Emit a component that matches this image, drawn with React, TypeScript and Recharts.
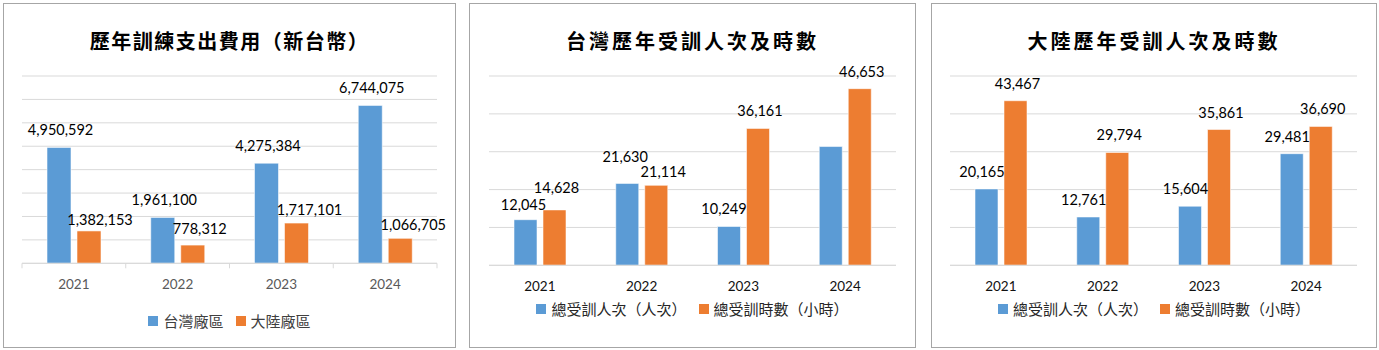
import { Bar, BarChart, CartesianGrid, LabelList, Legend, XAxis, YAxis } from 'recharts';

const years = ['2021', '2022', '2023', '2024'];

// 歷年訓練支出費用（新台幣）
const costTaiwan = [4950592, 1961100, 4275384, 6744075];
const costMainland = [1382153, 778312, 1717101, 1066705];
const costTicks = [0, 1000000, 2000000, 3000000, 4000000, 5000000, 6000000, 7000000, 8000000];

// 台灣歷年受訓人次及時數
const twTrainees = [12045, 21630, 10249, 31370];
const twHours = [14628, 21114, 36161, 46653];
const twTraineesShown = [true, true, true, false];

// 大陸歷年受訓人次及時數
const cnTrainees = [20165, 12761, 15604, 29481];
const cnHours = [43467, 29794, 35861, 36690];

const countTicks = [0, 10000, 20000, 30000, 40000, 50000];

const BLUE = '#5B9BD5';
const ORANGE = '#ED7D31';
const NUM_FONT = 'Lato, "Liberation Sans", sans-serif';
const CJK_FONT = '"Noto Sans CJK TC", "Noto Sans", sans-serif';

const fmt = (v: number) => v.toLocaleString('en-US');

const toRows = (a: number[], b: number[]) => years.map((year, i) => ({ year, a: a[i], b: b[i] }));

type Nudge = [number, number][];

const makeLabel = (dx: number, lift: number, nudge?: Nudge, shown?: boolean[]) => (p: any) => {
  const i = p.index ?? 0;
  if (shown && !shown[i]) return null;
  const vb = p.viewBox ?? {};
  const x = (p.x ?? vb.x) + (p.width ?? vb.width) / 2;
  const y = p.y ?? vb.y;
  const [nx, ny] = nudge?.[i] ?? [0, 0];
  return (
    <text x={x + dx + nx} y={y - lift + ny} textAnchor="middle" fontSize={14.5} fontFamily={NUM_FONT} fill="#000">
      {fmt(Number(p.value))}
    </text>
  );
};

const legendContent = (color: string) => (props: any) => (
  <div style={{ display: 'flex', justifyContent: 'center', alignItems: 'center', fontFamily: CJK_FONT, fontSize: 15, color }}>
    {(props.payload ?? []).map((e: any, i: number) => (
      <span key={i} style={{ display: 'inline-flex', alignItems: 'center', marginLeft: i ? 12 : 0 }}>
        <span style={{ width: 10, height: 10, background: e.color, marginRight: 5, display: 'inline-block' }} />
        {e.value}
      </span>
    ))}
  </div>
);

type PanelProps = {
  left: number;
  width: number;
  title: string;
  spacing: number;
  a: number[];
  b: number[];
  names: [string, string];
  ticks: number[];
  plotLeft: number;
  plotRight: number;
  baseline: number;
  legendTop: number;
  tickColor: string;
  boundaryTicks?: boolean;
  labelA: (p: any) => any;
  labelB: (p: any) => any;
};

const H = 343;

const Panel = (p: PanelProps) => {
  const inner = p.width - 2;
  const axisH = 40;
  const plotW = inner - p.plotLeft - p.plotRight;
  const band = plotW / years.length;
  const tick = (t: any) => {
    const { x, y, payload, index } = t;
    return (
      <g>
        {p.boundaryTicks && <line x1={x - band / 2} x2={x - band / 2} y1={y} y2={y + 5} stroke="#d9d9d9" />}
        {p.boundaryTicks && index === years.length - 1 && (
          <line x1={x + band / 2} x2={x + band / 2} y1={y} y2={y + 5} stroke="#d9d9d9" />
        )}
        <text x={x} y={y + 21} textAnchor="middle" dominantBaseline="central" fontSize={13.5} fontFamily={NUM_FONT} fill={p.tickColor}>
          {payload.value}
        </text>
      </g>
    );
  };
  return (
    <div
      style={{
        position: 'absolute',
        left: p.left,
        top: 3,
        width: p.width,
        height: 345,
        border: '1px solid #a6a6a6',
        boxSizing: 'border-box',
        background: '#fff',
      }}
    >
      <div
        style={{
          position: 'absolute',
          top: 24,
          left: 0,
          width: inner,
          textAlign: 'center',
          fontFamily: CJK_FONT,
          fontWeight: 700,
          fontSize: 20,
          lineHeight: '26px',
          letterSpacing: p.spacing,
          color: '#000',
        }}
      >
        {p.title}
      </div>
      <div style={{ position: 'absolute', left: 0, top: 0 }}>
        <BarChart
          width={inner}
          height={H}
          data={toRows(p.a, p.b)}
          margin={{ top: 72, right: p.plotRight, left: p.plotLeft, bottom: H - p.baseline - axisH }}
          barCategoryGap={25}
          barGap={6}
        >
          <CartesianGrid vertical={false} stroke="#d9d9d9" />
          <XAxis
            dataKey="year"
            height={axisH}
            axisLine={{ stroke: '#d9d9d9' }}
            tickLine={false}
            tickSize={0}
            tickMargin={0}
            tick={tick}
            interval={0}
          />
          <YAxis hide domain={[p.ticks[0], p.ticks[p.ticks.length - 1]]} ticks={p.ticks} />
          <Legend
            verticalAlign="middle"
            align="center"
            layout="horizontal"
            wrapperStyle={{ top: p.legendTop, left: 0, width: inner }}
            content={legendContent(p.boundaryTicks ? '#404040' : '#262626')}
          />
          <Bar dataKey="a" name={p.names[0]} fill={BLUE} stroke="#ffffff" strokeOpacity={0.55} isAnimationActive={false}>
            <LabelList dataKey="a" content={p.labelA} />
          </Bar>
          <Bar dataKey="b" name={p.names[1]} fill={ORANGE} stroke="#ffffff" strokeOpacity={0.55} isAnimationActive={false}>
            <LabelList dataKey="b" content={p.labelB} />
          </Bar>
        </BarChart>
      </div>
    </div>
  );
};

const twHoursNudge: Nudge = [[0, -5], [5, 4], [0, 0], [0, 0]];
const twTraineesNudge: Nudge = [[1, 2], [1, -9], [-2, 0], [0, 0]];
const costMainlandNudge: Nudge = [[-1, 2], [-5, -3], [1, 0], [1, 0]];

export default function App() {
  return (
    <div style={{ position: 'absolute', left: 0, top: 0, width: 1379, height: 350, background: '#fff' }}>
      <Panel
        left={3}
        width={453}
        title="歷年訓練支出費用（新台幣）"
        spacing={1.5}
        a={costTaiwan}
        b={costMainland}
        names={['台灣廠區', '大陸廠區']}
        ticks={costTicks}
        plotLeft={18}
        plotRight={18}
        baseline={259.3}
        legendTop={306}
        tickColor="#595959"
        boundaryTicks
        labelA={makeLabel(1.5, 12)}
        labelB={makeLabel(12, 8, costMainlandNudge)}
      />
      <Panel
        left={469}
        width={447}
        title="台灣歷年受訓人次及時數"
        spacing={3}
        a={twTrainees}
        b={twHours}
        names={['總受訓人次（人次）', '總受訓時數（小時）']}
        ticks={countTicks}
        plotLeft={19}
        plotRight={19}
        baseline={261.3}
        legendTop={294}
        tickColor="#111"
        labelA={makeLabel(-3, 12, twTraineesNudge, twTraineesShown)}
        labelB={makeLabel(2, 12, twHoursNudge)}
      />
      <Panel
        left={931}
        width={446}
        title="大陸歷年受訓人次及時數"
        spacing={3}
        a={cnTrainees}
        b={cnHours}
        names={['總受訓人次（人次）', '總受訓時數（小時）']}
        ticks={countTicks}
        plotLeft={18}
        plotRight={19}
        baseline={261.3}
        legendTop={294}
        tickColor="#111"
        labelA={makeLabel(-4.5, 12)}
        labelB={makeLabel(2, 12)}
      />
    </div>
  );
}
